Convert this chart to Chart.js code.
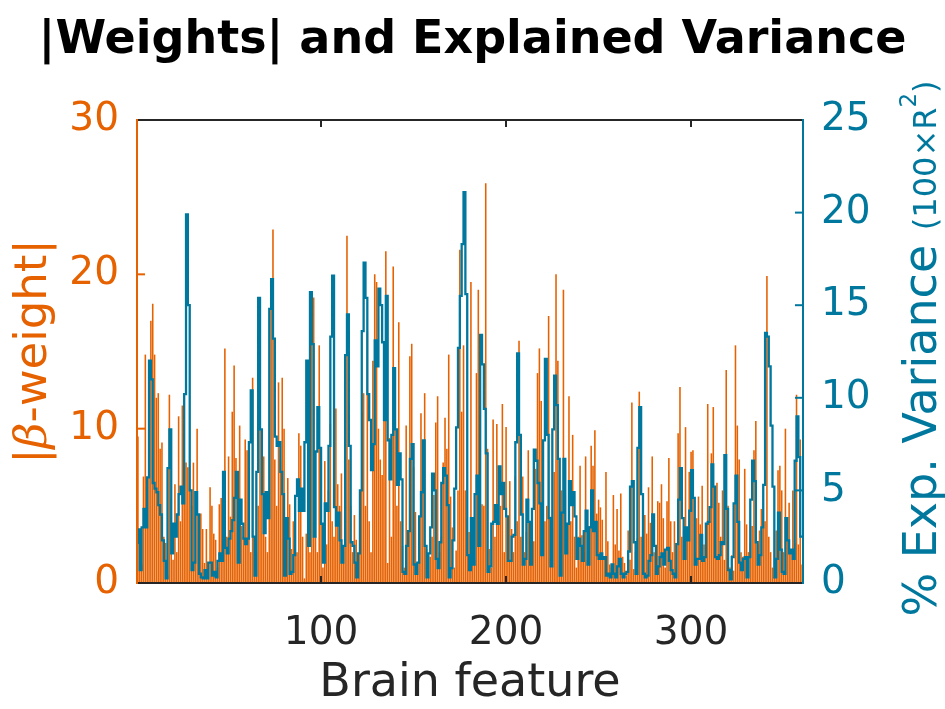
<!DOCTYPE html>
<html>
<head>
<meta charset="utf-8">
<script src="https://cdn.jsdelivr.net/npm/chart.js@4.4.0/dist/chart.umd.min.js"></script>
<style>
  html, body { margin: 0; padding: 0; background: #fff; }
  #wrap { width: 945px; height: 709px; }
</style>
</head>
<body>
<div id="wrap"><canvas id="chart" width="945" height="709"></canvas></div>
<script>
// |beta-weight| per brain feature (left axis)
const betaWeights = [
  9.5, 2.5, 1.2, 6.9, 14.8, 4.0, 10.2, 17.0, 18.1, 14.8,
  12.0, 12.3, 8.7, 9.1, 3.0, 2.6, 0.5, 12.2, 5.5, 1.5,
  6.4, 2.0, 10.8, 4.0, 11.5, 9.3, 7.8, 7.5, 6.0, 5.0,
  7.8, 1.5, 10.0, 2.0, 4.5, 3.5, 1.3, 3.5, 0.8, 6.2,
  5.0, 3.2, 2.8, 1.0, 5.1, 5.5, 2.0, 15.2, 3.0, 8.2,
  4.3, 11.1, 14.1, 8.1, 5.0, 10.2, 3.7, 3.0, 9.3, 8.6,
  4.0, 2.0, 13.3, 3.0, 2.0, 5.0, 16.0, 6.0, 8.2, 3.0,
  2.0, 5.0, 18.1, 22.9, 8.0, 5.0, 13.0, 8.0, 13.3, 10.0,
  3.0, 6.8, 5.1, 2.2, 4.0, 4.1, 2.0, 9.7, 8.9, 3.0,
  0.3, 3.2, 4.5, 2.0, 18.9, 18.5, 3.0, 2.0, 15.4, 4.0,
  1.0, 7.9, 2.5, 6.0, 10.3, 4.0, 3.0, 11.3, 6.4, 5.0,
  7.1, 2.0, 4.0, 22.5, 8.0, 5.0, 2.0, 4.4, 2.8, 1.0,
  3.0, 11.1, 12.3, 5.0, 16.3, 4.0, 2.0, 14.4, 20.0, 19.5,
  10.0, 8.0, 7.0, 13.2, 21.5, 1.3, 9.4, 3.0, 20.5, 13.2,
  5.0, 16.9, 4.0, 2.4, 1.0, 10.2, 3.0, 14.7, 15.5, 7.5,
  4.6, 1.0, 2.0, 11.0, 8.8, 12.3, 2.2, 0.5, 1.7, 3.0,
  5.7, 10.4, 12.1, 2.0, 3.0, 7.8, 10.7, 8.7, 14.8, 5.6,
  3.6, 1.0, 2.1, 6.0, 21.6, 11.1, 15.4, 6.0, 4.2, 3.3,
  19.5, 2.1, 1.5, 13.6, 19.0, 10.7, 5.1, 5.0, 25.9, 8.7,
  2.2, 1.0, 10.6, 3.0, 10.3, 4.0, 5.0, 11.6, 2.0, 10.1,
  3.0, 6.6, 3.5, 2.0, 6.9, 4.0, 15.7, 3.0, 6.9, 2.0,
  3.3, 8.6, 1.5, 2.0, 2.7, 7.4, 13.6, 15.2, 11.8, 3.0,
  4.0, 5.0, 17.3, 4.3, 3.6, 7.2, 20.0, 14.4, 1.5, 6.0,
  19.0, 5.7, 3.0, 12.1, 4.0, 9.6, 3.0, 1.0, 3.0, 7.6,
  3.1, 2.0, 8.2, 1.5, 3.7, 8.9, 7.6, 9.9, 4.5, 5.4,
  4.9, 4.1, 1.5, 7.2, 2.7, 1.2, 1.0, 5.7, 2.5, 4.8,
  2.1, 5.8, 1.7, 1.3, 0.5, 3.4, 1.5, 11.7, 0.9, 2.0,
  2.9, 12.4, 3.0, 2.5, 4.4, 3.2, 6.2, 3.9, 8.2, 2.0,
  1.5, 5.3, 5.2, 6.4, 4.2, 1.0, 5.3, 8.1, 4.0, 2.0,
  4.0, 1.0, 9.7, 12.7, 3.0, 3.4, 10.1, 3.0, 7.2, 8.5,
  8.6, 2.0, 4.2, 5.6, 3.8, 6.3, 2.5, 1.7, 11.6, 4.0,
  8.4, 11.4, 4.0, 6.5, 5.2, 3.0, 6.0, 1.5, 13.8, 5.0,
  1.0, 1.8, 0.8, 15.4, 10.2, 8.0, 2.0, 1.7, 7.4, 3.8,
  2.0, 2.6, 3.7, 8.6, 10.5, 2.5, 3.4, 4.8, 4.7, 4.0,
  19.9, 3.0, 2.0, 1.0, 0.4, 3.4, 7.3, 7.6, 6.0, 2.0,
  10.0, 3.0, 5.2, 2.0, 6.0, 2.6, 12.2, 2.5, 9.3, 1.2
];

// % explained variance (100 x R^2) per brain feature (right axis)
const expVariance = [
  2.1, 2.9, 0.7, 3.0, 4.0, 3.0, 5.7, 12.0, 11.0, 5.4,
  5.1, 4.9, 4.2, 3.7, 2.3, 1.2, 0.25, 6.2, 8.3, 1.6,
  3.2, 2.5, 3.7, 4.8, 5.2, 4.3, 10.2, 19.9, 15.0, 5.0,
  0.7, 1.1, 4.9, 3.7, 0.5, 0.3, 0.25, 0.7, 0.25, 1.1,
  1.1, 0.4, 0.6, 0.3, 1.2, 1.6, 1.2, 6.0, 1.9, 1.6,
  2.4, 2.8, 3.4, 4.6, 6.0, 1.1, 4.5, 3.2, 2.4, 2.1,
  2.4, 7.6, 10.4, 2.5, 0.4, 6.0, 15.4, 8.3, 4.8, 2.7,
  4.9, 3.5, 14.8, 16.4, 13.2, 7.9, 7.4, 7.6, 6.0, 4.8,
  0.4, 3.5, 2.4, 0.5, 0.6, 1.5, 4.7, 5.6, 3.9, 5.1,
  3.9, 7.6, 12.0, 2.0, 15.7, 12.9, 2.5, 7.1, 9.5, 7.3,
  3.2, 1.1, 4.3, 3.9, 7.4, 13.3, 16.6, 4.1, 3.1, 3.8,
  2.3, 1.1, 2.0, 12.3, 14.5, 7.4, 2.2, 2.0, 1.1, 0.3,
  1.6, 5.0, 13.6, 17.3, 15.4, 10.2, 8.8, 6.1, 7.5, 13.1,
  11.7, 15.9, 15.0, 13.0, 8.8, 15.5, 7.7, 5.6, 8.0, 11.6,
  8.3, 5.3, 7.0, 5.6, 0.6, 0.5, 2.0, 2.8, 6.7, 7.5,
  1.0, 0.5, 1.1, 3.6, 4.9, 7.7, 2.0, 0.3, 1.6, 3.0,
  5.9, 5.0, 1.3, 0.8, 2.2, 5.4, 6.2, 5.8, 4.2, 0.3,
  0.8, 2.3, 5.1, 8.4, 12.7, 15.5, 18.3, 21.1, 15.6, 1.5,
  0.7, 3.5, 1.0, 4.8, 5.8, 2.0, 13.4, 11.8, 9.4, 7.0,
  0.6, 0.9, 3.2, 3.3, 4.2, 3.2, 6.3, 4.8, 5.4, 4.0,
  3.6, 1.2, 1.2, 2.5, 2.6, 7.6, 12.4, 8.0, 3.7, 1.0,
  1.3, 4.5, 3.3, 1.0, 4.0, 7.2, 6.6, 5.4, 4.3, 1.5,
  7.7, 12.1, 8.0, 3.5, 0.9, 8.3, 11.2, 9.6, 6.7, 0.4,
  3.8, 6.7, 1.6, 3.2, 5.5, 4.2, 4.9, 3.6, 1.3, 2.4,
  2.0, 1.2, 2.8, 3.9, 1.0, 3.0, 5.0, 2.8, 3.3, 1.5,
  1.3, 1.6, 1.3, 1.4, 0.4, 0.5, 0.3, 1.0, 0.5, 0.3,
  0.9, 1.3, 0.5, 0.3, 0.5, 0.6, 1.7, 5.2, 5.5, 2.2,
  0.5, 7.3, 9.5, 4.8, 0.5, 0.3, 0.4, 1.2, 1.5, 3.7,
  2.0, 0.5, 0.9, 1.4, 1.6, 1.0, 1.8, 1.9, 1.2, 0.7,
  0.5, 0.3, 2.1, 4.5, 6.2, 3.5, 1.3, 3.0, 2.3, 3.9,
  6.1, 4.6, 1.0, 1.3, 1.3, 2.6, 1.2, 1.4, 3.2, 3.3,
  4.1, 6.4, 5.2, 1.4, 1.3, 1.5, 2.2, 2.1, 6.9, 4.0,
  0.7, 0.2, 1.4, 4.3, 5.8, 3.3, 1.1, 0.7, 1.3, 1.4,
  0.3, 1.4, 4.5, 6.6, 5.5, 2.2, 1.0, 1.5, 3.0, 5.3,
  13.5, 13.3, 11.7, 8.5, 5.2, 0.3, 1.3, 3.8, 1.8, 0.6,
  0.5, 3.5, 2.3, 1.6, 1.8, 1.3, 6.6, 9.0, 6.8, 2.5
];

const xTicks = [100, 200, 300];
const betaTicks = [0, 10, 20, 30];
const varTicks = [0, 5, 10, 15, 20, 25];

const ORANGE = '#e66100';
const BLUE = '#00789e';
const DARK = '#262626';
const FONT = '"DejaVu Sans", sans-serif';

// feature number of each entry (1..N)
const featureIds = betaWeights.map((_, i) => i + 1);

// box, inward ticks and the two y-axis titles (MATLAB look)
const axesDecor = {
  id: 'axesDecor',
  afterDatasetsDraw(chart) {
    const { ctx, chartArea: a, scales } = chart;
    ctx.save();
    ctx.lineWidth = 2;
    ctx.lineCap = 'butt';

    // x ticks, top and bottom, pointing in
    ctx.strokeStyle = DARK;
    xTicks.forEach(v => {
      const px = Math.round(scales.x.getPixelForValue(v));
      ctx.beginPath();
      ctx.moveTo(px, a.top); ctx.lineTo(px, a.top + 7);
      ctx.moveTo(px, a.bottom); ctx.lineTo(px, a.bottom - 7);
      ctx.stroke();
    });
    ctx.strokeStyle = ORANGE;
    betaTicks.forEach(v => {
      const py = scales.y.getPixelForValue(v);
      ctx.beginPath(); ctx.moveTo(a.left, py); ctx.lineTo(a.left + 8, py); ctx.stroke();
    });
    ctx.strokeStyle = BLUE;
    varTicks.forEach(v => {
      const py = scales.y1.getPixelForValue(v);
      ctx.beginPath(); ctx.moveTo(a.right, py); ctx.lineTo(a.right - 8, py); ctx.stroke();
    });

    // box
    ctx.strokeStyle = DARK;
    ctx.beginPath();
    ctx.moveTo(a.left, a.top); ctx.lineTo(a.right, a.top);
    ctx.moveTo(a.left, a.bottom); ctx.lineTo(a.right, a.bottom);
    ctx.stroke();
    ctx.strokeStyle = ORANGE;
    ctx.beginPath(); ctx.moveTo(a.left, a.top - 1); ctx.lineTo(a.left, a.bottom + 1); ctx.stroke();
    ctx.strokeStyle = BLUE;
    ctx.beginPath(); ctx.moveTo(a.right, a.top - 1); ctx.lineTo(a.right, a.bottom + 1); ctx.stroke();

    const midY = (a.top + a.bottom) / 2;

    // left title: |β-weight|
    const leftParts = [
      { t: '|', f: '45px ' + FONT },
      { t: 'β', f: 'italic 45px "DejaVu Serif", serif' },
      { t: '-weight|', f: '45px ' + FONT }
    ];
    drawRotated(ctx, leftParts, 30, midY, ORANGE, 16);

    // right title: % Exp. Variance (100×R²)
    const rightParts = [
      { t: '% Exp. Variance ', f: '46px ' + FONT },
      { t: '(100×R', f: '32px ' + FONT },
      { t: '2', f: '23px ' + FONT, up: 20 },
      { t: ')', f: '32px ' + FONT }
    ];
    drawRotated(ctx, rightParts, 919, midY - 3, BLUE, 17);

    ctx.restore();
  }
};

function drawRotated(ctx, parts, cx, cy, color, base) {
  ctx.save();
  ctx.translate(cx, cy);
  ctx.rotate(-Math.PI / 2);
  ctx.fillStyle = color;
  ctx.textBaseline = 'alphabetic';
  ctx.textAlign = 'left';
  let total = 0;
  parts.forEach(p => { ctx.font = p.f; p.w = ctx.measureText(p.t).width; total += p.w; });
  let x = -total / 2;
  parts.forEach(p => {
    ctx.font = p.f;
    ctx.fillText(p.t, x, base - (p.up || 0));
    x += p.w;
  });
  ctx.restore();
}

new Chart(document.getElementById('chart'), {
  type: 'bar',
  data: {
    datasets: [
      {
        type: 'line',
        label: '% Exp. Variance',
        data: featureIds.map((f, i) => ({ x: f, y: expVariance[i] })),
        yAxisID: 'y1',
        borderColor: BLUE,
        borderWidth: 2.3,
        stepped: 'after',
        pointRadius: 0,
        tension: 0,
        fill: false,
        order: 0
      },
      {
        type: 'bar',
        label: '|β-weight|',
        data: featureIds.map((f, i) => ({ x: f, y: betaWeights[i] })),
        yAxisID: 'y',
        backgroundColor: ORANGE,
        borderWidth: 0,
        barPercentage: 0.85,
        categoryPercentage: 1,
        grouped: false,
        order: 1
      }
    ]
  },
  options: {
    responsive: false,
    animation: false,
    layout: { padding: 0 },
    plugins: {
      legend: { display: false },
      tooltip: { enabled: false },
      title: {
        display: true,
        text: '|Weights| and Explained Variance',
        color: '#000',
        font: { family: FONT, size: 46, weight: 'bold', lineHeight: 1.2 },
        padding: { top: 13, bottom: 51.8 }
      }
    },
    scales: {
      x: {
        type: 'linear',
        offset: false,
        min: 0.5,
        max: 360.5,
        afterBuildTicks: s => { s.ticks = xTicks.map(v => ({ value: v })); },
        afterFit: s => { s.height = 126; },
        grid: { display: false, drawTicks: false, offset: false },
        border: { display: false },
        ticks: { color: DARK, font: { family: FONT, size: 39 }, padding: 27, maxRotation: 0 },
        title: {
          display: true,
          text: 'Brain feature',
          color: DARK,
          font: { family: FONT, size: 46, lineHeight: 1.1 },
          padding: { top: 0, bottom: 0 }
        }
      },
      y: {
        position: 'left',
        min: 0,
        max: 30,
        afterBuildTicks: s => { s.ticks = betaTicks.map(v => ({ value: v })); },
        afterFit: s => { s.width = 137; },
        grid: { display: false, drawTicks: false },
        border: { display: false },
        ticks: { color: ORANGE, font: { family: FONT, size: 39 }, padding: 18 }
      },
      y1: {
        position: 'right',
        min: 0,
        max: 25,
        afterBuildTicks: s => { s.ticks = varTicks.map(v => ({ value: v })); },
        afterFit: s => { s.width = 142; },
        grid: { display: false, drawTicks: false },
        border: { display: false },
        ticks: { color: BLUE, font: { family: FONT, size: 39 }, padding: 18 }
      }
    }
  },
  plugins: [axesDecor]
});
</script>
</body>
</html>
